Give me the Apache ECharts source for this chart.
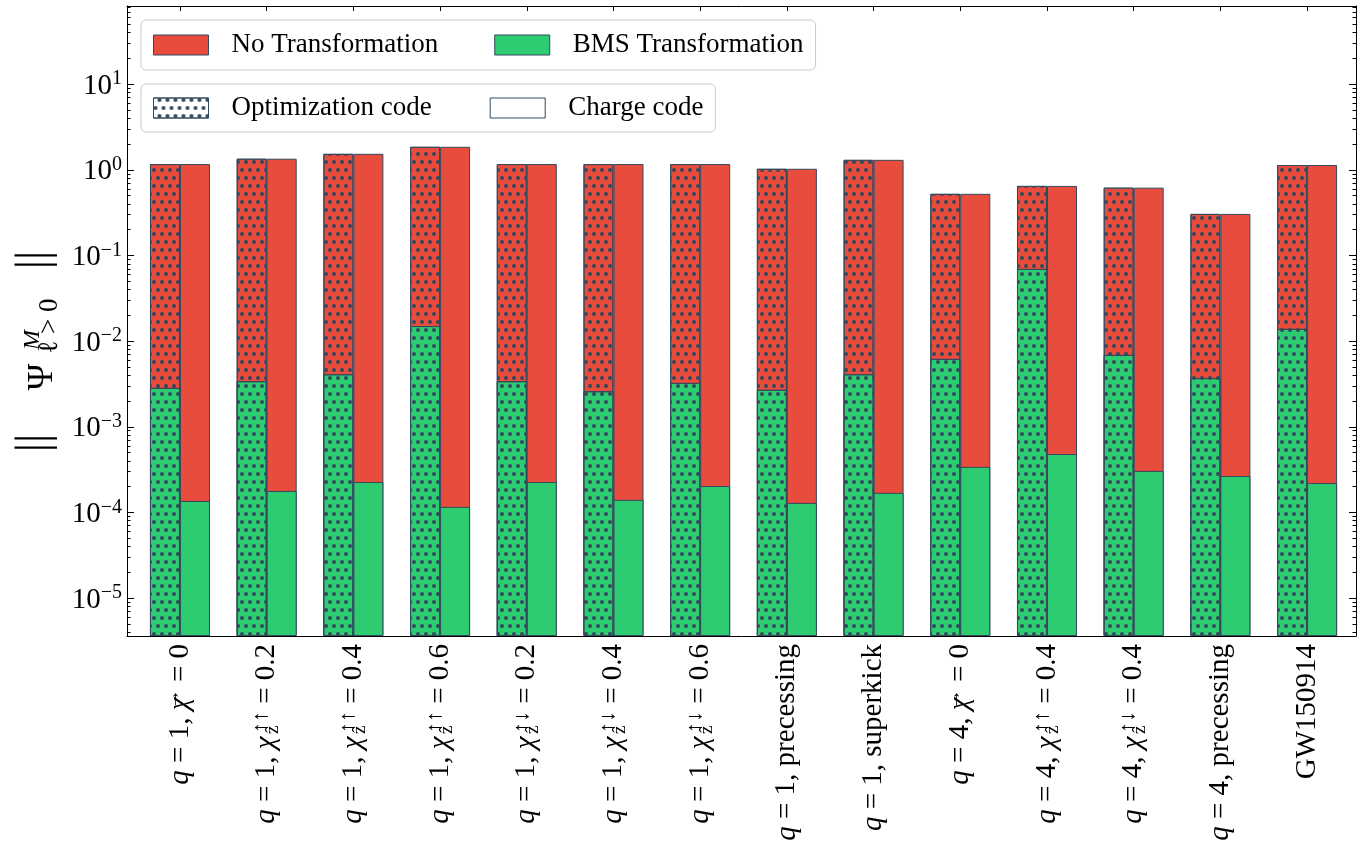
<!DOCTYPE html>
<html><head><meta charset="utf-8">
<script src="https://cdn.jsdelivr.net/npm/echarts@6/dist/echarts.min.js"></script>
<style>html,body{margin:0;padding:0;background:#fff}#c{width:1359px;height:856px}</style>
</head><body><div id="c"></div>
<script>
// ---- data ----
const categories = [
  '{i|q}{t| = 1, }{ic|χ}{vec|→}{t| = 0}',
  '{i|q}{t| = 1, }{i|χ}{t|\u200A}{sub|ẑ}{sup|↑↑}{t| = 0.2}',
  '{i|q}{t| = 1, }{i|χ}{t|\u200A}{sub|ẑ}{sup|↑↑}{t| = 0.4}',
  '{i|q}{t| = 1, }{i|χ}{t|\u200A}{sub|ẑ}{sup|↑↑}{t| = 0.6}',
  '{i|q}{t| = 1, }{i|χ}{t|\u200A}{sub|ẑ}{sup|↑↓}{t| = 0.2}',
  '{i|q}{t| = 1, }{i|χ}{t|\u200A}{sub|ẑ}{sup|↑↓}{t| = 0.4}',
  '{i|q}{t| = 1, }{i|χ}{t|\u200A}{sub|ẑ}{sup|↑↓}{t| = 0.6}',
  '{i|q}{t| = 1, precessing}',
  '{i|q}{t| = 1, superkick}',
  '{i|q}{t| = 4, }{ic|χ}{vec|→}{t| = 0}',
  '{i|q}{t| = 4, }{i|χ}{t|\u200A}{sub|ẑ}{sup|↑↑}{t| = 0.4}',
  '{i|q}{t| = 4, }{i|χ}{t|\u200A}{sub|ẑ}{sup|↑↓}{t| = 0.4}',
  '{i|q}{t| = 4, precessing}',
  '{t|GW150914}'
];
const optNoTransformation    = [1.17, 1.35, 1.54, 1.86, 1.17, 1.17, 1.17, 1.03, 1.31, 0.525, 0.65, 0.62, 0.306, 1.14];
const chargeNoTransformation = [1.17, 1.35, 1.54, 1.86, 1.17, 1.17, 1.17, 1.03, 1.31, 0.525, 0.65, 0.62, 0.306, 1.14];
const optBMSTransformation    = [2.84e-3, 3.4e-3, 4.1e-3, 1.5e-2, 3.4e-3, 2.6e-3, 3.25e-3, 2.7e-3, 4.1e-3, 6.2e-3, 6.97e-2, 6.9e-3, 3.7e-3, 1.39e-2];
const chargeBMSTransformation = [1.36e-4, 1.78e-4, 2.26e-4, 1.16e-4, 2.26e-4, 1.4e-4, 2.03e-4, 1.29e-4, 1.69e-4, 3.4e-4, 4.8e-4, 3.05e-4, 2.66e-4, 2.2e-4];
const yTickValues = [1e-5, 1e-4, 1e-3, 1e-2, 1e-1, 1, 10];
const legendTop = ['No Transformation', 'BMS Transformation'];
const legendBottom = ['Optimization code', 'Charge code'];

// ---- style ----
const RED = '#e74c3c', GREEN = '#2ecc71', EDGE = '#34495e';
const FONT = 'Liberation Serif';
const yMin = 3.6e-6, yMax = 82;
const xMin = -0.611, xMax = 13.564;
const catIdx = categories.map((c, i) => i);
const yMinor = [];
for (let k = -6; k <= 1; k++) for (let m = 2; m <= 9; m++) {
  const v = m * Math.pow(10, k);
  if (v > yMin && v < yMax) yMinor.push(v);
}
const dots = {
  symbol: 'circle', symbolSize: 1, color: EDGE,
  dashArrayX: [[3.75, 3.75], [0, 3.75, 3.75, 0]], dashArrayY: [3.75, 3.75]
};
const toPairs = arr => arr.map((v, i) => [i, v]);

const chart = echarts.init(document.getElementById('c'), null, {renderer: 'canvas'});

const xBase = {
  type: 'value', min: xMin, max: xMax, splitLine: {show: false},
  axisLine: {show: true, onZero: false, lineStyle: {color: '#000', width: 1}},
  axisTick: {show: true, inside: true, length: 5, customValues: catIdx, lineStyle: {color: '#000'}}
};
const yBase = {
  type: 'log', logBase: 10, min: yMin, max: yMax, startValue: yMin, splitLine: {show: false}
};
const titleText = (text, x, y, size, italic) => ({
  type: 'text', x: x, y: y, rotation: Math.PI / 2,
  style: {text: text, fontFamily: FONT, fontSize: size, fontStyle: italic ? 'italic' : 'normal',
    fill: '#000', align: 'center', verticalAlign: 'middle'}
});

const option = {
  animation: false,
  backgroundColor: '#fff',
  grid: {left: 127, right: 3, top: 6, bottom: 220, containLabel: false},
  xAxis: [
    Object.assign({}, xBase, {
      position: 'bottom',
      axisLabel: {
        show: true, customValues: catIdx, rotate: 90, margin: 8,
        fontFamily: FONT, fontSize: 29, color: '#000', lineHeight: 32,
        formatter: v => categories[Math.round(v)],
        rich: {
          t: {fontFamily: FONT, fontSize: 29, color: '#000', align: 'left'},
          i: {fontFamily: FONT, fontSize: 29, fontStyle: 'italic', color: '#000', align: 'left'},
          ic: {fontFamily: FONT, fontSize: 29, fontStyle: 'italic', color: '#000', align: 'left', width: 1},
          vec: {fontFamily: FONT, fontSize: 20, color: '#000', verticalAlign: 'top', lineHeight: 14, align: 'left'},
          sup: {fontFamily: FONT, fontSize: 22, color: '#000', verticalAlign: 'top', lineHeight: 14, align: 'left'},
          sub: {fontFamily: FONT, fontSize: 19, color: '#000', verticalAlign: 'bottom', lineHeight: 12, width: 1, align: 'left'}
        }
      }
    }),
    Object.assign({}, xBase, {position: 'top', axisLabel: {show: false}})
  ],
  yAxis: [
    Object.assign({}, yBase, {
      position: 'left',
      axisLine: {show: true, onZero: false, lineStyle: {color: '#000', width: 1}},
      axisTick: {show: true, inside: true, length: 7, customValues: yTickValues, lineStyle: {color: '#000'}},
      axisLabel: {
        show: true, customValues: yTickValues, margin: 5,
        formatter: v => {
          const e = Math.round(Math.log10(v));
          return '{b|10}{s|' + (e < 0 ? '−' + (-e) : String(e)) + '}';
        },
        rich: {
          b: {fontFamily: FONT, fontSize: 29, color: '#000', lineHeight: 30, padding: [4, 0, 0, 0]},
          s: {fontFamily: FONT, fontSize: 20, color: '#000', verticalAlign: 'top', lineHeight: 14}
        }
      }
    }),
    Object.assign({}, yBase, {
      position: 'left', axisLine: {show: false, onZero: false}, axisLabel: {show: false},
      axisTick: {show: true, inside: true, length: 3.5, customValues: yMinor, lineStyle: {color: '#000'}}
    }),
    Object.assign({}, yBase, {
      position: 'right',
      axisLine: {show: true, onZero: false, lineStyle: {color: '#000', width: 1}}, axisLabel: {show: false},
      axisTick: {show: true, inside: true, length: 7, customValues: yTickValues, lineStyle: {color: '#000'}}
    }),
    Object.assign({}, yBase, {
      position: 'right', axisLine: {show: false, onZero: false}, axisLabel: {show: false},
      axisTick: {show: true, inside: true, length: 3.5, customValues: yMinor, lineStyle: {color: '#000'}}
    })
  ],
  legend: [
    {
      data: [
        {name: legendTop[0], icon: 'rect', itemStyle: {color: RED, opacity: 1, borderColor: EDGE, borderWidth: 1}},
        {name: legendTop[1], icon: 'rect', itemStyle: {color: GREEN, opacity: 1, borderColor: EDGE, borderWidth: 1}}
      ],
      left: 141, top: 20, orient: 'horizontal', selectedMode: false,
      itemWidth: 55, itemHeight: 20, itemGap: 56, padding: [11, 12, 11, 12],
      backgroundColor: '#fff', borderColor: '#cccccc', borderWidth: 1, borderRadius: 5,
      textStyle: {fontFamily: FONT, fontSize: 27, color: '#000', padding: [0, 0, 0, 18], lineHeight: 28}
    },
    {
      data: [
        {name: legendBottom[0], icon: 'rect', itemStyle: {color: '#fff', opacity: 1, borderColor: EDGE, borderWidth: 1, decal: dots}},
        {name: legendBottom[1], icon: 'rect', itemStyle: {color: '#fff', opacity: 1, borderColor: EDGE, borderWidth: 1}}
      ],
      left: 141, top: 84, orient: 'horizontal', selectedMode: false,
      itemWidth: 55, itemHeight: 20, itemGap: 58, padding: [10, 12, 10, 12],
      backgroundColor: '#fff', borderColor: '#cccccc', borderWidth: 1, borderRadius: 5,
      textStyle: {fontFamily: FONT, fontSize: 27, color: '#000', padding: [0, 0, 0, 18], lineHeight: 28}
    }
  ],
  graphic: [
    titleText('||', 35, 443, 46, false),
    titleText('Ψ', 43, 377, 36, false),
    titleText('M', 33, 340, 24, true),
    titleText('ℓ > 0', 50, 326, 27, false),
    titleText('||', 35, 260, 46, false)
  ],
  series: [
    {name: 'opt-no', type: 'bar', xAxisIndex: 0, yAxisIndex: 0, barWidth: 30, barGap: '0%',
      data: toPairs(optNoTransformation),
      itemStyle: {color: RED, borderColor: EDGE, borderWidth: 1, decal: dots}},
    {name: 'charge-no', type: 'bar', xAxisIndex: 0, yAxisIndex: 0, barWidth: 30, barGap: '0%',
      data: toPairs(chargeNoTransformation),
      itemStyle: {color: RED, borderColor: EDGE, borderWidth: 1}},
    {name: 'opt-bms', type: 'bar', xAxisIndex: 1, yAxisIndex: 0, barWidth: 30, barGap: '0%',
      data: toPairs(optBMSTransformation),
      itemStyle: {color: GREEN, borderColor: EDGE, borderWidth: 1, decal: dots}},
    {name: 'charge-bms', type: 'bar', xAxisIndex: 1, yAxisIndex: 0, barWidth: 30, barGap: '0%',
      data: toPairs(chargeBMSTransformation),
      itemStyle: {color: GREEN, borderColor: EDGE, borderWidth: 1}},
    {name: legendTop[0], type: 'scatter', data: [], itemStyle: {color: RED, opacity: 1}},
    {name: legendTop[1], type: 'scatter', data: [], itemStyle: {color: GREEN, opacity: 1}},
    {name: legendBottom[0], type: 'scatter', data: [], itemStyle: {color: '#fff', opacity: 1, decal: dots}},
    {name: legendBottom[1], type: 'scatter', data: [], itemStyle: {color: '#fff', opacity: 1}}
  ]
};
chart.setOption(option);
</script></body></html>
